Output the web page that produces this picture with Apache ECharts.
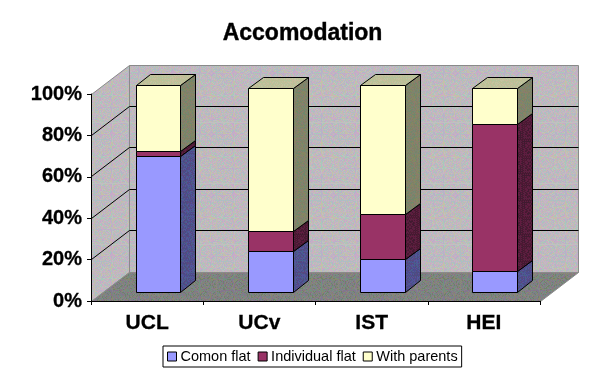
<!DOCTYPE html>
<html lang="en">
<head>
    <meta charset="UTF-8">
    <title>Accomodation</title>
    <script src="https://cdn.jsdelivr.net/npm/echarts@6/dist/echarts.min.js"></script>
    <style>
        html, body { margin: 0; padding: 0; background: #fff; }
        #main { width: 605px; height: 376px; }
    </style>
</head>
<body>
    <div id="main"></div>
    <script>
        var categories = ['UCL', 'UCv', 'IST', 'HEI'];
        var comonFlat = [65.5, 19.7, 15.8, 10];
        var individualFlat = [2.4, 9.7, 21.7, 71];
        var withParents = [32, 69, 62.4, 17.4];
        var seriesNames = ['Comon flat', 'Individual flat', 'With parents'];
        var yTicks = [0, 20, 40, 60, 80, 100];

        var stacks = [comonFlat, individualFlat, withParents];

        // old excel 3d box: how far the back wall sits from the front plane, in px
        var depthX = 38, depthY = -29;

        // small fixed dither tile, the reference is a 256 colour gif
        function ditherTile(palette) {
            var size = 61;
            var c = document.createElement('canvas');
            c.width = size;
            c.height = size;
            var ctx = c.getContext('2d');
            for (var y = 0; y < size; y++) {
                for (var x = 0; x < size; x++) {
                    var h = (x * 73 + y * 151 + (x * y) % 17 * 29 + (x ^ y) * 11) % palette.length;
                    ctx.fillStyle = palette[h];
                    ctx.fillRect(x, y, 1, 1);
                }
            }
            return { image: c, repeat: 'repeat' };
        }

        var wallFill = ditherTile(['#c0c0c0', '#c8aac8', '#a8c8bc', '#b4b4c8', '#c4c0a8', '#bcbcbc', '#ccb0c0']);
        var floorFill = ditherTile(['#808080', '#8c7088', '#709080', '#7c7c90', '#888870', '#868686', '#70806c']);
        var sideFills = [
            ditherTile(['#4c4c90', '#5a4880', '#48608c', '#4c4c80', '#54549c']),
            ditherTile(['#4d1933', '#601c40', '#401a30', '#5a2040']),
            ditherTile(['#808066', '#70886c', '#8c7c6c', '#7c8470', '#848860'])
        ];
        var topFill = ditherTile(['#bfbf99', '#b4c49c', '#c8bc9c', '#bcc094', '#c4c4a0']);
        var frontColors = ['#9999ff', '#993366', '#ffffcc'];

        function px(v) {
            return Math.round(v - 0.5) + 0.5;
        }

        function poly(points, fill, stroke) {
            return {
                type: 'polygon',
                shape: { points: points.map(function (p) { return [px(p[0]), px(p[1])]; }) },
                style: { fill: fill, stroke: stroke, lineWidth: 1 }
            };
        }

        function line(a, b, color) {
            return {
                type: 'line',
                shape: { x1: px(a[0]), y1: px(a[1]), x2: px(b[0]), y2: px(b[1]) },
                style: { stroke: color, lineWidth: 1 }
            };
        }

        function renderWalls(params, api) {
            var w = api.size([1, 0])[0];
            var left = api.coord([0, 0])[0] - w / 2;
            var right = left + w * categories.length;
            var bottom = api.coord([0, 0])[1];
            var top = api.coord([0, 100])[1];
            var children = [
                poly([[left, top], [left + depthX, top + depthY], [left + depthX, bottom + depthY], [left, bottom]], wallFill, '#8a8a8a'),
                poly([[left + depthX, top + depthY], [right + depthX, top + depthY], [right + depthX, bottom + depthY], [left + depthX, bottom + depthY]], wallFill, '#8a8a8a'),
                poly([[left, bottom], [left + depthX, bottom + depthY], [right + depthX, bottom + depthY], [right, bottom]], floorFill, '#8a8a8a')
            ];
            yTicks.forEach(function (t) {
                if (t === 0 || t === 100) return;
                var y = api.coord([0, t])[1];
                children.push(line([left, y], [left + depthX, y + depthY], '#000'));
                children.push(line([left + depthX, y + depthY], [right + depthX, y + depthY], '#000'));
            });
            return { type: 'group', children: children };
        }

        function renderSegment(s) {
            return function (params, api) {
                var i = api.value(0);
                var base = 0;
                for (var k = 0; k < s; k++) base += stacks[k][i];
                var w = api.size([1, 0])[0];
                var cx = api.coord([i, 0])[0] + depthX * 0.3;
                var half = w * 0.2;
                var yb = api.coord([i, base])[1] + depthY * 0.3;
                var yt = api.coord([i, base + api.value(1)])[1] + depthY * 0.3;
                var xl = cx - half, xr = cx + half;
                var dx = depthX * 0.39, dy = depthY * 0.39;
                var children = [
                    poly([[xr, yt], [xr + dx, yt + dy], [xr + dx, yb + dy], [xr, yb]], sideFills[s], '#000'),
                    poly([[xl, yt], [xr, yt], [xr, yb], [xl, yb]], frontColors[s], '#000')
                ];
                if (s === stacks.length - 1) {
                    children.push(poly([[xl, yt], [xl + dx, yt + dy], [xr + dx, yt + dy], [xr, yt]], topFill, '#000'));
                }
                return { type: 'group', children: children };
            };
        }

        var series = [{
            name: 'walls',
            type: 'custom',
            coordinateSystem: 'cartesian2d',
            silent: true,
            z: 1,
            renderItem: renderWalls,
            data: [[0, 0]]
        }];
        stacks.forEach(function (values, s) {
            series.push({
                name: seriesNames[s],
                type: 'custom',
                coordinateSystem: 'cartesian2d',
                z: 2,
                itemStyle: { color: frontColors[s] },
                renderItem: renderSegment(s),
                data: values.map(function (v, i) { return [i, v]; })
            });
        });

        var myChart = echarts.init(document.getElementById('main'));
        myChart.setOption({
            animation: false,
            backgroundColor: '#fff',
            textStyle: { fontFamily: 'Liberation Sans' },
            title: {
                text: 'Accomodation',
                left: 'center',
                top: 17,
                textStyle: { fontFamily: 'Liberation Sans', fontWeight: 'bold', fontSize: 23, color: '#000', textBorderColor: '#000', textBorderWidth: 0.4 }
            },
            legend: {
                data: seriesNames,
                left: 163,
                top: 346,
                orient: 'horizontal',
                icon: 'rect',
                itemWidth: 9,
                itemHeight: 9,
                itemGap: 7,
                padding: [3, 4],
                borderColor: '#000',
                borderWidth: 1,
                backgroundColor: '#fff',
                itemStyle: { borderColor: '#000', borderWidth: 1 },
                textStyle: { fontFamily: 'Liberation Sans', fontSize: 14.5, color: '#000', padding: [0, 0, 0, -1] }
            },
            grid: { left: 91, top: 94, width: 449, height: 207, containLabel: false },
            xAxis: {
                type: 'category',
                data: categories,
                z: 5,
                axisLine: { lineStyle: { color: '#000', width: 1 } },
                axisTick: { show: true, length: 4, lineStyle: { color: '#000' } },
                axisLabel: { margin: 12, color: '#000', fontWeight: 'bold', fontSize: 21, fontFamily: 'Liberation Sans', textBorderColor: '#000', textBorderWidth: 0.3 }
            },
            yAxis: {
                type: 'value',
                min: 0,
                max: 100,
                interval: 20,
                z: 5,
                splitLine: { show: false },
                axisLine: { show: true, lineStyle: { color: '#000', width: 1 } },
                axisTick: { show: true, length: 4, lineStyle: { color: '#000' } },
                axisLabel: { margin: 9, color: '#000', fontWeight: 'bold', fontSize: 20, fontFamily: 'Liberation Sans', formatter: '{value}%', textBorderColor: '#000', textBorderWidth: 0.3 }
            },
            series: series
        });
    </script>
</body>
</html>
